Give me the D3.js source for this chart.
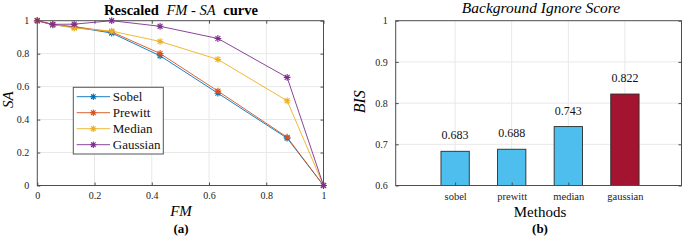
<!DOCTYPE html>
<html>
<head>
<meta charset="utf-8">
<script src="https://cdn.jsdelivr.net/npm/d3@7"></script>
<style>
  body { margin: 0; background: #fff; }
  svg text { font-family: "Liberation Serif", "Times New Roman", Times, "DejaVu Serif", serif; }
</style>
</head>
<body>
<svg id="chart" width="685" height="241"></svg>
<script>
// ---- data ----
const fmValues = [0, 0.054, 0.129, 0.260, 0.429, 0.631, 0.873, 1.0];
const sobelSA = [1, 0.975, 0.962, 0.925, 0.787, 0.560, 0.287, 0];
const prewittSA = [1, 0.976, 0.964, 0.932, 0.801, 0.573, 0.293, 0];
const medianSA = [1, 0.977, 0.955, 0.937, 0.874, 0.765, 0.514, 0];
const gaussianSA = [1, 0.978, 0.979, 1.0, 0.966, 0.892, 0.656, 0];
const seriesNames = ["Sobel", "Prewitt", "Median", "Gaussian"];
const seriesColors = ["#0072BD", "#D95319", "#EDB120", "#7E2F8E"];
const curveTicks = [0, 0.2, 0.4, 0.6, 0.8, 1];

const methods = ["sobel", "prewitt", "median", "gaussian"];
const bisValues = [0.683, 0.688, 0.743, 0.822];
const barColors = ["#4DBEEE", "#4DBEEE", "#4DBEEE", "#A2142F"];
const bisTicks = [0.6, 0.7, 0.8, 0.9, 1];

const svg = d3.select("#chart");
const axisCol = "#4d4d4d", gridCol = "#e8e8e8";
const serif = "'Liberation Serif', 'Times New Roman', Times, serif";

function asterisk(g, x, y, r, color) {
    const d = r * 0.72;
    const p = `M${x - r},${y}L${x + r},${y}M${x},${y - r}L${x},${y + r}` +
              `M${x - d},${y - d}L${x + d},${y + d}M${x - d},${y + d}L${x + d},${y - d}`;
    g.append("path").attr("d", p).attr("stroke", color).attr("stroke-width", 1.1).attr("fill", "none");
}

// ================= (a) FM-SA curve =================
const L = { left: 37.3, right: 323.5, top: 20.7, bottom: 185.5 };
const xa = d3.scaleLinear().domain([0, 1]).range([L.left, L.right]);
const ya = d3.scaleLinear().domain([0, 1]).range([L.bottom, L.top]);
const ga = svg.append("g");

// grid
ga.selectAll(".vg").data(curveTicks.slice(1, -1)).enter().append("line")
    .attr("x1", d => xa(d)).attr("x2", d => xa(d))
    .attr("y1", L.top).attr("y2", L.bottom)
    .attr("stroke", gridCol).attr("stroke-width", 1);
ga.selectAll(".hg").data(curveTicks.slice(1, -1)).enter().append("line")
    .attr("y1", d => ya(d)).attr("y2", d => ya(d))
    .attr("x1", L.left).attr("x2", L.right)
    .attr("stroke", gridCol).attr("stroke-width", 1);

// box + inward ticks
ga.append("rect").attr("x", L.left).attr("y", L.top)
    .attr("width", L.right - L.left).attr("height", L.bottom - L.top)
    .attr("fill", "none").attr("stroke", axisCol).attr("stroke-width", 1);

const xAxisA = ga.append("g").attr("transform", `translate(0,${L.bottom})`)
    .call(d3.axisBottom(xa).tickValues(curveTicks).tickSize(-3).tickPadding(6).tickFormat(d3.format("~g")));
const xAxisTopA = ga.append("g").attr("transform", `translate(0,${L.top})`)
    .call(d3.axisTop(xa).tickValues(curveTicks).tickSize(-3).tickFormat(""));
const yAxisA = ga.append("g").attr("transform", `translate(${L.left},0)`)
    .call(d3.axisLeft(ya).tickValues(curveTicks).tickSize(-3).tickPadding(8).tickFormat(d3.format("~g")));
const yAxisRA = ga.append("g").attr("transform", `translate(${L.right},0)`)
    .call(d3.axisRight(ya).tickValues(curveTicks).tickSize(-3).tickFormat(""));

// series
const curveData = [sobelSA, prewittSA, medianSA, gaussianSA];
const line = d3.line().x((d, i) => xa(fmValues[i])).y(d => ya(d));
curveData.forEach((vals, k) => {
    const g = ga.append("g");
    g.append("path").datum(vals).attr("d", line)
        .attr("fill", "none").attr("stroke", seriesColors[k]).attr("stroke-width", 0.9);
    vals.forEach((v, i) => asterisk(g, xa(fmValues[i]), ya(v), 3.4, seriesColors[k]));
});

// legend
const leg = ga.append("g").attr("transform", "translate(73.3,87.3)");
leg.append("rect").attr("width", 90).attr("height", 66.7)
    .attr("fill", "#fff").attr("stroke", "#555").attr("stroke-width", 1);
seriesNames.forEach((name, k) => {
    const y = 9.4 + k * 16;
    leg.append("line").attr("x1", 3.4).attr("x2", 36.7).attr("y1", y).attr("y2", y)
        .attr("stroke", seriesColors[k]).attr("stroke-width", 0.9);
    asterisk(leg, 20, y, 3.2, seriesColors[k]);
    leg.append("text").attr("x", 39.5).attr("y", y + 4.5).attr("font-family", serif)
        .attr("font-size", 13).attr("fill", "#111").text(name);
});

// titles and labels
const tA = ga.append("text").attr("x", 181).attr("y", 14.5).attr("text-anchor", "middle")
    .attr("font-family", serif).attr("font-size", 14.5).attr("fill", "#000");
tA.append("tspan").attr("font-weight", "bold").text("Rescaled ");
tA.append("tspan").attr("font-style", "italic").attr("dx", 4).text("FM - SA");
tA.append("tspan").attr("font-weight", "bold").attr("dx", 4).text(" curve");

ga.append("text").attr("x", 181).attr("y", 216).attr("text-anchor", "middle").attr("font-family", serif)
    .attr("font-size", 15).attr("font-style", "italic").text("FM");
ga.append("text").attr("x", 181).attr("y", 233).attr("text-anchor", "middle").attr("font-family", serif)
    .attr("font-size", 13).attr("font-weight", "bold").text("(a)");
ga.append("text").attr("transform", "translate(13,99.7) rotate(-90)").attr("text-anchor", "middle")
    .attr("font-family", serif).attr("font-size", 15).attr("font-style", "italic").text("SA");

// ================= (b) BIS bars =================
const R = { left: 395.7, right: 681.5, top: 20.7, bottom: 185.5 };
const xb = d3.scaleLinear().domain([-0.05, 5]).range([R.left, R.right]);
const yb = d3.scaleLinear().domain([0.6, 1]).range([R.bottom, R.top]);
const gb = svg.append("g");
const catPos = methods.map((m, i) => i + 1);

gb.selectAll(".vg").data(catPos).enter().append("line")
    .attr("x1", d => xb(d)).attr("x2", d => xb(d))
    .attr("y1", R.top).attr("y2", R.bottom)
    .attr("stroke", gridCol).attr("stroke-width", 1);
gb.selectAll(".hg").data(bisTicks.slice(1, -1)).enter().append("line")
    .attr("y1", d => yb(d)).attr("y2", d => yb(d))
    .attr("x1", R.left).attr("x2", R.right)
    .attr("stroke", gridCol).attr("stroke-width", 1);

// bars
const barW = xb(0.5) - xb(0);
gb.selectAll(".bar").data(bisValues).enter().append("rect")
    .attr("x", (d, i) => xb(catPos[i]) - barW / 2)
    .attr("y", d => yb(d))
    .attr("width", barW)
    .attr("height", d => yb(0.6) - yb(d))
    .attr("fill", (d, i) => barColors[i])
    .attr("stroke", "#2b2b2b").attr("stroke-width", 0.9);

gb.selectAll(".val").data(bisValues).enter().append("text")
    .attr("x", (d, i) => xb(catPos[i]))
    .attr("y", d => yb(d) - 12)
    .attr("text-anchor", "middle").attr("font-family", serif).attr("font-size", 12).attr("fill", "#111")
    .text(d => d3.format(".3f")(d));

gb.append("rect").attr("x", R.left).attr("y", R.top)
    .attr("width", R.right - R.left).attr("height", R.bottom - R.top)
    .attr("fill", "none").attr("stroke", axisCol).attr("stroke-width", 1);

const xAxisB = gb.append("g").attr("transform", `translate(0,${R.bottom})`)
    .call(d3.axisBottom(xb).tickValues(catPos).tickSize(-3).tickPadding(7)
        .tickFormat((d, i) => methods[i]));
const yAxisB = gb.append("g").attr("transform", `translate(${R.left},0)`)
    .call(d3.axisLeft(yb).tickValues(bisTicks).tickSize(-3).tickPadding(8).tickFormat(d3.format("~g")));
const yAxisRB = gb.append("g").attr("transform", `translate(${R.right},0)`)
    .call(d3.axisRight(yb).tickValues(bisTicks).tickSize(-3).tickFormat(""));

gb.append("text").attr("x", 541).attr("y", 12.5).attr("text-anchor", "middle").attr("font-family", serif)
    .attr("font-size", 15.5).attr("font-style", "italic").text("Background Ignore Score");
gb.append("text").attr("x", 540).attr("y", 216.5).attr("text-anchor", "middle").attr("font-family", serif)
    .attr("font-size", 15).text("Methods");
gb.append("text").attr("x", 540).attr("y", 233).attr("text-anchor", "middle").attr("font-family", serif)
    .attr("font-size", 13).attr("font-weight", "bold").text("(b)");
gb.append("text").attr("transform", "translate(365,101.7) rotate(-90)").attr("text-anchor", "middle")
    .attr("font-family", serif).attr("font-size", 16).attr("font-style", "italic").text("BIS");

// axis styling
[xAxisA, xAxisTopA, yAxisA, yAxisRA, xAxisB, yAxisB, yAxisRB].forEach(a => {
    a.attr("font-family", serif);
    a.select(".domain").remove();
    a.selectAll(".tick line").attr("stroke", axisCol);
    a.selectAll(".tick text").attr("fill", "#222").attr("font-size", 10);
});
xAxisB.selectAll(".tick text").attr("font-size", 10.5);
</script>
</body>
</html>
